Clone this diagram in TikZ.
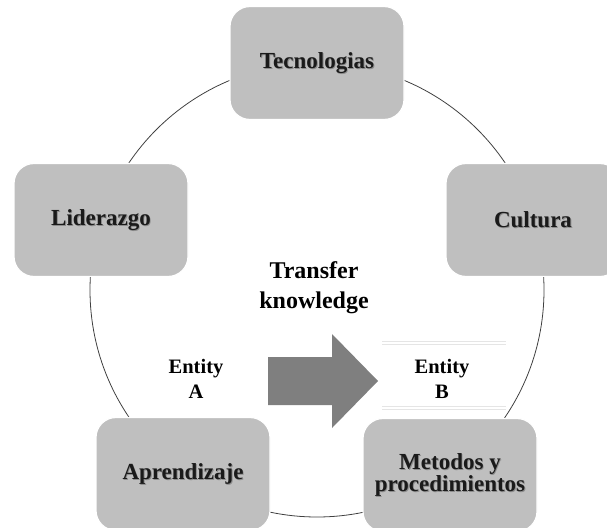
\documentclass[tikz,border=0pt]{standalone}
\usepackage{fontspec}
\setmainfont{Liberation Serif}
\definecolor{boxfill}{HTML}{BFBFBF}
\definecolor{arrowfill}{HTML}{7F7F7F}
\definecolor{ringline}{HTML}{404040}
\definecolor{boxtext}{HTML}{1A1A1A}
\tikzset{
  topic/.style={rectangle, rounded corners=20pt, fill=boxfill, draw=white, line width=1.2pt,
    minimum width=174pt, minimum height=113pt},
  topiclabel/.style={align=center, text=boxtext,
    font=\fontsize{23}{22}\selectfont\bfseries},
  topicshadow/.style={topiclabel, text=black!45, xshift=0.9pt, yshift=-0.9pt},
  bigcaption/.style={align=center, font=\fontsize{24}{30}\selectfont\bfseries},
  smallcaption/.style={align=center, font=\fontsize{20.5}{25}\selectfont\bfseries},
  ring/.style={draw=ringline, line width=0.8pt},
  faint/.style={draw=black!10, line width=0.6pt}
}
\begin{document}
\begin{tikzpicture}[x=1pt, y=-1pt]
  \useasboundingbox (0,0) rectangle (607,527);

  % the cycle ring behind the five topics
  \coordinate (hub) at (317,290);
  \draw[ring] (hub) circle (227);

  % five topic boxes placed on the ring
  \node[topic] (tec) at (317,63)  {};
  \node[topic] (lid) at (101,220) {};
  \node[topic] (cul) at (533,220) {};
  \node[topic] (apr) at (183,474) {};
  \node[topic] (met) at (450,475) {};

  % soft shadow under each topic name
  \node[topicshadow] (tecS) at (tec.center) {Tecnologias};
  \node[topicshadow] (lidS) at (lid.center) {Liderazgo};
  \node[topicshadow] (culS) at (cul.center) {Cultura};
  \node[topicshadow] (aprS) at (apr.center) {Aprendizaje};
  \node[topicshadow] (metS) at (met.center) {Metodos y\\procedimientos};

  % topic names
  \node[topiclabel] (tecT) at (tec.center) {Tecnologias};
  \node[topiclabel] (lidT) at (lid.center) {Liderazgo};
  \node[topiclabel] (culT) at (cul.center) {Cultura};
  \node[topiclabel] (aprT) at (apr.center) {Aprendizaje};
  \node[topiclabel] (metT) at (met.center) {Metodos y\\procedimientos};

  % central transfer label and block arrow
  \node[bigcaption] (transfer) at (314,288) {Transfer\\knowledge};
  \fill[arrowfill] (268,357) -- (332,357) -- (332,334) -- (378,381)
    -- (332,428) -- (332,405) -- (268,405) -- cycle;

  % the two entities
  \node[smallcaption] (entA) at (196,379) {Entity\\A};
  \node[smallcaption] (entB) at (442,379) {Entity\\B};
  \draw[faint] (382,341) -- (506,341);
  \draw[faint] (382,344) -- (506,344);
  \draw[faint] (382,406) -- (506,406);
  \draw[faint] (382,409) -- (506,409);
\end{tikzpicture}
\end{document}
